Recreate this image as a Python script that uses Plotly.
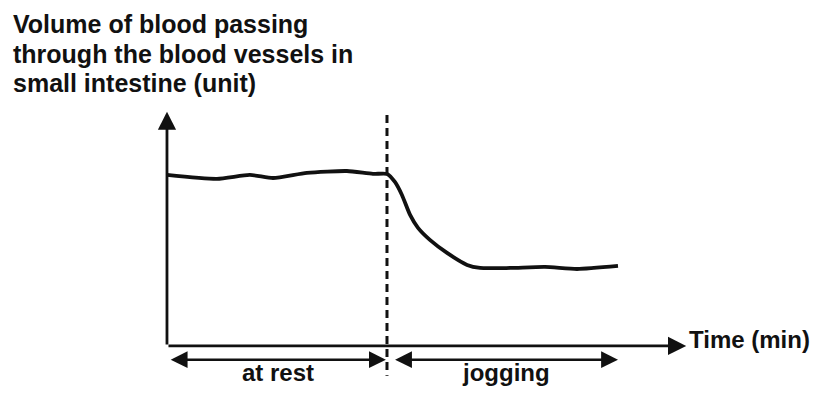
import plotly.graph_objects as go

# Blood volume through small-intestine vessels vs time (min)
time_min = [0.0, 2.27, 3.77, 4.82, 6.36, 8.18, 9.36, 10.0,
            10.36, 10.68, 11.05, 11.41, 11.95, 12.73, 13.64, 14.23,
            15.59, 17.18, 18.64, 20.5]
blood_volume = [10.0, 9.77, 10.0, 9.82, 10.12, 10.23, 10.06, 10.06,
                9.59, 8.83, 7.66, 6.90, 6.20, 5.44, 4.74, 4.56,
                4.56, 4.62, 4.50, 4.68]

jog_start = 10.0          # minute at which jogging begins
x_axis_end = 23.6         # length of the drawn time axis
y_axis_end = 13.7         # length of the drawn volume axis
phase_arrow_y = -0.8      # level of the phase arrows under the axis
phase_labels = ["at rest", "jogging"]
phase_spans = [(0.1, 9.95), (10.3, 20.5)]
y_title_lines = ["Volume of blood passing",
                 "through the blood vessels in",
                 "small intestine (unit)"]
x_title = "Time (min)"

INK = "#111111"
FONT = "Liberation Sans, Arial, sans-serif"
W, H = 827, 394

fig = go.Figure()

fig.add_trace(go.Scatter(
    x=time_min, y=blood_volume, mode="lines",
    line=dict(color=INK, width=3.8, shape="spline", smoothing=0.6),
    hoverinfo="skip", showlegend=False,
))

# boundary between rest and jogging
fig.add_trace(go.Scatter(
    x=[jog_start, jog_start], y=[y_axis_end - 0.2, -1.75], mode="lines",
    line=dict(color=INK, width=3, dash="8px,5px"),
    hoverinfo="skip", showlegend=False,
))

annotations = []

# axes drawn as arrows
for tip in [(x_axis_end, 0), (0, y_axis_end)]:
    annotations.append(dict(x=tip[0], y=tip[1], ax=0, ay=0, xref="x", yref="y",
                            axref="x", ayref="y", text="", showarrow=True,
                            arrowhead=2, arrowsize=1.3, arrowwidth=2.8,
                            arrowcolor=INK))

# phase arrows and labels
for label, (x0, x1) in zip(phase_labels, phase_spans):
    annotations.append(dict(x=x1, y=phase_arrow_y, ax=x0, ay=phase_arrow_y,
                            xref="x", yref="y", axref="x", ayref="y", text="",
                            showarrow=True, arrowside="end+start",
                            arrowhead=2, startarrowhead=2,
                            arrowsize=1.35, startarrowsize=1.35,
                            arrowwidth=2.5, arrowcolor=INK))
    annotations.append(dict(x=(x0 + x1) / 2, y=phase_arrow_y, xref="x", yref="y",
                            text="<b>%s</b>" % label, showarrow=False,
                            yanchor="top", yshift=3,
                            font=dict(family=FONT, size=24, color=INK)))

annotations.append(dict(x=x_axis_end, y=0, xref="x", yref="y",
                        text="<b>%s</b>" % x_title,
                        showarrow=False, xanchor="left", yanchor="middle",
                        xshift=1, yshift=6,
                        font=dict(family=FONT, size=24, color=INK)))

# y-axis title, one annotation per line
for i, line in enumerate(y_title_lines):
    annotations.append(dict(x=11 / W, y=1 - (24 + 29.5 * i) / H,
                            xref="paper", yref="paper",
                            text="<b>%s</b>" % line, showarrow=False,
                            xanchor="left", yanchor="middle",
                            font=dict(family=FONT, size=25, color=INK)))

fig.update_layout(
    width=W, height=H,
    margin=dict(l=0, r=0, t=0, b=0),
    paper_bgcolor="white", plot_bgcolor="white",
    xaxis=dict(range=[-7.59, 30.0], visible=False, fixedrange=True),
    yaxis=dict(range=[-2.81, 20.23], visible=False, fixedrange=True),
    annotations=annotations,
    font=dict(family=FONT, color=INK),
)

fig.write_html("out.html")
